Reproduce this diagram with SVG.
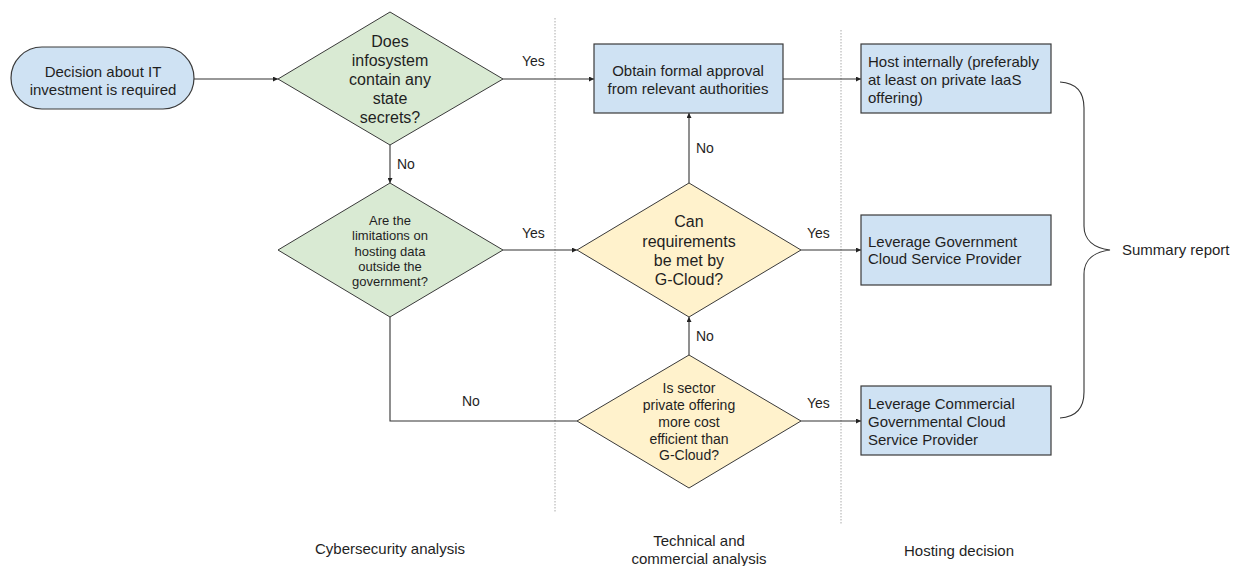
<svg xmlns="http://www.w3.org/2000/svg" width="1240" height="566" viewBox="0 0 1240 566">
<defs>
<marker id="ah" viewBox="0 0 6 6" refX="6" refY="3" markerWidth="5" markerHeight="5" orient="auto" markerUnits="userSpaceOnUse">
<path d="M0,0 L6,3 L0,6 z" fill="#222"/>
</marker>
</defs>
<style>
text{font-family:"Liberation Sans",Arial,sans-serif;fill:#1f1f1f}
.t15{font-size:15px}
.t16{font-size:16px}
.t13{font-size:13px}
.t14{font-size:14px}
.mid{text-anchor:middle}
.blue{fill:#cfe2f3;stroke:#3a3a3a;stroke-width:1.2}
.green{fill:#d9ead3;stroke:#3a3a3a;stroke-width:1}
.yellow{fill:#fff2cc;stroke:#3a3a3a;stroke-width:1}
.conn{fill:none;stroke:#333;stroke-width:1.1}
.arr{marker-end:url(#ah)}
.lane{stroke:#aaa;stroke-width:1;stroke-dasharray:1.5 1.5;fill:none}
</style>
<rect width="1240" height="566" fill="#fff"/>

<g id="lanes">
<line class="lane" x1="555" y1="18" x2="555" y2="512"/>
<line class="lane" x1="841" y1="30" x2="841" y2="524"/>
</g>

<g id="connectors">
<line class="conn arr" x1="194" y1="79" x2="278" y2="79"/>
<line class="conn arr" x1="503" y1="79" x2="594" y2="79"/>
<line class="conn arr" x1="390" y1="145" x2="390" y2="183"/>
<line class="conn arr" x1="503" y1="250" x2="577" y2="250"/>
<polyline class="conn" points="390,317 390,421 577,421"/>
<line class="conn arr" x1="783" y1="79" x2="861" y2="79"/>
<line class="conn arr" x1="689" y1="183" x2="689" y2="113"/>
<line class="conn arr" x1="801" y1="250" x2="861" y2="250"/>
<line class="conn arr" x1="689" y1="355" x2="689" y2="317"/>
<line class="conn arr" x1="801" y1="421" x2="861" y2="421"/>
<path class="conn" d="M1060,82 C1076,83 1084,92 1084,108 L1084,226 C1084,240 1094,248 1110,250 C1094,252 1084,260 1084,274 L1084,392 C1084,408 1076,417 1060,418"/>
<text class="t14" x="522" y="66">Yes</text>
<text class="t14" x="397" y="169">No</text>
<text class="t14" x="522" y="238">Yes</text>
<text class="t14" x="462" y="406">No</text>
<text class="t14" x="696" y="153">No</text>
<text class="t14" x="807" y="238">Yes</text>
<text class="t14" x="696" y="341">No</text>
<text class="t14" x="807" y="408">Yes</text>
</g>

<g id="start">
<rect class="blue" x="11" y="47" width="183" height="62" rx="31" ry="31"/>
<text class="t15 mid" x="103" y="77">Decision about IT</text>
<text class="t15 mid" x="103" y="95">investment is required</text>
</g>

<g id="q-secrets">
<polygon class="green" points="390,12 503,79 390,145 278,79"/>
<text class="t16 mid" x="390" y="47">Does</text>
<text class="t16 mid" x="390" y="66">infosystem</text>
<text class="t16 mid" x="390" y="85">contain any</text>
<text class="t16 mid" x="390" y="104">state</text>
<text class="t16 mid" x="390" y="123">secrets?</text>
</g>

<g id="q-limitations">
<polygon class="green" points="390,183 503,250 390,317 278,250"/>
<text class="t13 mid" x="390" y="225">Are the</text>
<text class="t13 mid" x="390" y="240">limitations on</text>
<text class="t13 mid" x="390" y="256">hosting data</text>
<text class="t13 mid" x="390" y="271">outside the</text>
<text class="t13 mid" x="390" y="286">government?</text>
</g>

<g id="approval">
<rect class="blue" x="594" y="44" width="189" height="69"/>
<text class="t15 mid" x="688" y="76">Obtain formal approval</text>
<text class="t15 mid" x="688" y="94">from relevant authorities</text>
</g>

<g id="q-gcloud">
<polygon class="yellow" points="689,183 801,250 689,317 577,250"/>
<text class="t16 mid" x="689" y="227">Can</text>
<text class="t16 mid" x="689" y="247">requirements</text>
<text class="t16 mid" x="689" y="266">be met by</text>
<text class="t16 mid" x="689" y="285">G-Cloud?</text>
</g>

<g id="q-private">
<polygon class="yellow" points="689,355 801,421 689,488 577,421"/>
<text class="t14 mid" x="689" y="393">Is sector</text>
<text class="t14 mid" x="689" y="410">private offering</text>
<text class="t14 mid" x="689" y="427">more cost</text>
<text class="t14 mid" x="689" y="444">efficient than</text>
<text class="t14 mid" x="689" y="460">G-Cloud?</text>
</g>

<g id="host-internal">
<rect class="blue" x="861" y="44" width="190" height="69"/>
<text class="t15" x="868" y="67">Host internally (preferably</text>
<text class="t15" x="868" y="85">at least on private IaaS</text>
<text class="t15" x="868" y="103">offering)</text>
</g>

<g id="gov-csp">
<rect class="blue" x="861" y="215" width="190" height="70"/>
<text class="t15" x="868" y="247">Leverage Government</text>
<text class="t15" x="868" y="264">Cloud Service Provider</text>
</g>

<g id="com-csp">
<rect class="blue" x="861" y="386" width="190" height="69"/>
<text class="t15" x="868" y="409">Leverage Commercial</text>
<text class="t15" x="868" y="427">Governmental Cloud</text>
<text class="t15" x="868" y="445">Service Provider</text>
</g>

<g id="summary">
<text class="t15" x="1122" y="255">Summary report</text>
</g>

<g id="lane-labels">
<text class="t15 mid" x="390" y="554">Cybersecurity analysis</text>
<text class="t15 mid" x="699" y="546">Technical and</text>
<text class="t15 mid" x="699" y="564">commercial analysis</text>
<text class="t15 mid" x="959" y="556">Hosting decision</text>
</g>
</svg>
